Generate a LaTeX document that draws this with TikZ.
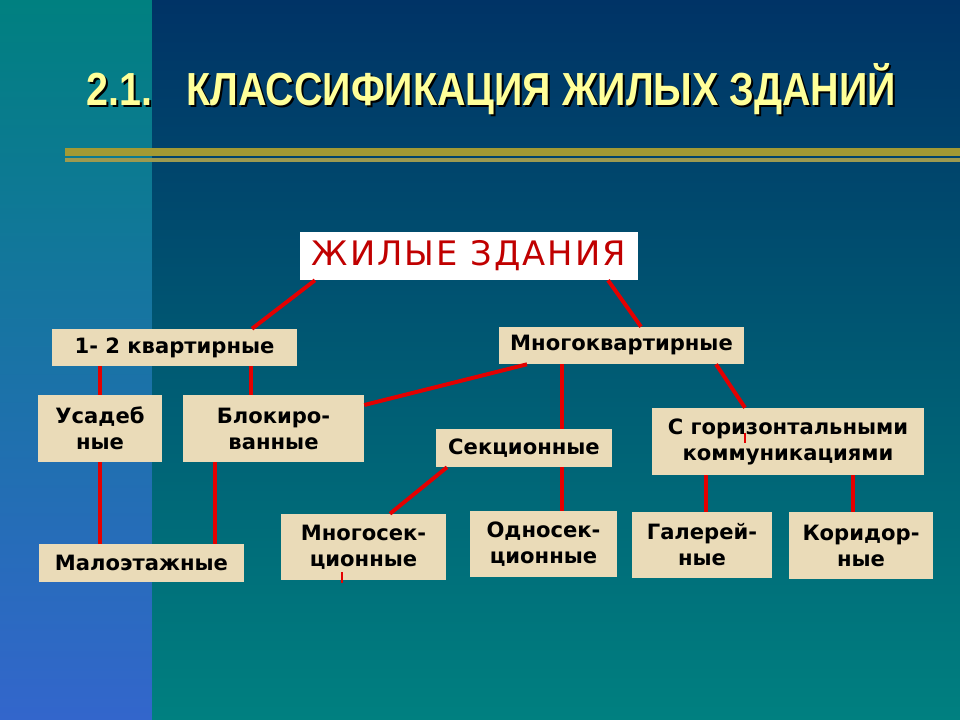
\documentclass[tikz,border=0pt]{standalone}
\usepackage{fontspec}
\setmainfont{DejaVu Sans}
\newfontfamily\titlefont[FakeStretch=0.85]{Liberation Sans}
\newfontfamily\handfont[LetterSpace=6]{DejaVu Sans}

\definecolor{stripTop}{RGB}{0,128,128}
\definecolor{stripBottom}{RGB}{51,102,204}
\definecolor{mainTop}{RGB}{0,51,102}
\definecolor{mainBottom}{RGB}{0,128,128}
\definecolor{ruleThick}{RGB}{162,154,52}
\definecolor{ruleThin}{RGB}{156,154,80}
\definecolor{titleYellow}{RGB}{255,255,153}
\definecolor{boxFill}{RGB}{234,219,184}
\definecolor{linkRed}{RGB}{228,0,0}
\definecolor{headRed}{RGB}{192,0,0}

\begin{document}
\begin{tikzpicture}[x=0.025cm, y=-0.025cm,
    box/.style={fill=boxFill, inner sep=0pt, align=center,
      font=\bfseries\fontsize{15}{18.5}\selectfont},
    link/.style={linkRed, line width=2.8pt},
    tick/.style={linkRed, line width=1.2pt}]

    % background
    \shade[top color=stripTop, bottom color=stripBottom] (0,0) rectangle (152,720);
    \shade[top color=mainTop, bottom color=mainBottom] (152,0) rectangle (960,720);
    \fill[ruleThick] (65,148) rectangle (960,156);
    \fill[ruleThin] (65,158) rectangle (960,162);

    % title
    \node[anchor=west, text=black, font=\titlefont\bfseries\fontsize{33}{36}\selectfont]
      at (84,91) (title_shadow) {2.1.\hspace{24pt}КЛАССИФИКАЦИЯ ЖИЛЫХ ЗДАНИЙ};
    \node[anchor=west, text=titleYellow, font=\titlefont\bfseries\fontsize{33}{36}\selectfont]
      at (82,89) (title) {2.1.\hspace{24pt}КЛАССИФИКАЦИЯ ЖИЛЫХ ЗДАНИЙ};

    % boxes
    \node[fill=white, minimum width=8.45cm, minimum height=1.2cm, text=headRed,
      font=\handfont\fontsize{24}{28}\selectfont] at (469,256) (dwellings) {ЖИЛЫЕ ЗДАНИЯ};

    \node[box, minimum width=6.125cm, minimum height=0.925cm] at (174.5,347.5) (one_two_flat) {1- 2 квартирные};
    \node[box, minimum width=6.125cm, minimum height=0.925cm] at (621.5,345.5) (multi_flat) {Многоквартирные};

    \node[box, minimum width=3.1cm, minimum height=1.675cm] at (100,428.5) (manor) {Усадеб\\ные};
    \node[box, minimum width=4.525cm, minimum height=1.675cm] at (273.5,428.5) (blocked) {Блокиро-\\ванные};
    \node[box, minimum width=5.125cm, minimum height=0.95cm] at (141.5,563) (low_rise) {Малоэтажные};

    \node[box, minimum width=4.4cm, minimum height=0.95cm] at (524,448) (sectional) {Секционные};
    \node[box, minimum width=4.125cm, minimum height=1.65cm] at (363.5,547) (multi_sect) {Многосек-\\ционные};
    \node[box, minimum width=3.675cm, minimum height=1.65cm] at (543.5,544) (single_sect) {Односек-\\ционные};

    \node[box, minimum width=6.8cm, minimum height=1.675cm] at (788,441.5) (horizontal) {С горизонтальными\\коммуникациями};
    \node[box, minimum width=3.5cm, minimum height=1.65cm] at (702,545) (gallery) {Галерей-\\ные};
    \node[box, minimum width=3.6cm, minimum height=1.675cm] at (861,545.5) (corridor) {Коридор-\\ные};

    % connectors
    \draw[link] ([xshift=-3.85cm]dwellings.south) -- ([xshift=1.9375cm]one_two_flat.north);
    \draw[link] ([xshift=3.475cm]dwellings.south) -- ([xshift=0.4875cm]multi_flat.north);

    \draw[link] (manor.north |- one_two_flat.south) -- (manor.north);
    \draw[link] ([xshift=-0.5625cm]blocked.north |- one_two_flat.south) -- ([xshift=-0.5625cm]blocked.north);
    \draw[link] (manor.south) -- (manor.south |- low_rise.north);
    \draw[link] ([xshift=-1.4625cm]blocked.south) -- ([xshift=-1.4625cm]blocked.south |- low_rise.north);

    \draw[link] ([xshift=-2.3625cm]multi_flat.south) -- ([yshift=0.5875cm]blocked.east);
    \draw[link] ([xshift=-1.4875cm]multi_flat.south) -- ([xshift=-1.4875cm]multi_flat.south |- sectional.north);
    \draw[link] ([xshift=2.3625cm]multi_flat.south) -- ([xshift=-1.075cm]horizontal.north);

    \draw[link] ([xshift=-1.925cm]sectional.south) -- ([xshift=0.6625cm]multi_sect.north);
    \draw[link] ([xshift=0.95cm]sectional.south) -- ([xshift=0.95cm]sectional.south |- single_sect.north);

    \draw[link] ([xshift=0.1cm]gallery.north |- horizontal.south) -- ([xshift=0.1cm]gallery.north);
    \draw[link] ([xshift=-0.2cm]corridor.north |- horizontal.south) -- ([xshift=-0.2cm]corridor.north);

    \draw[tick] ([xshift=-0.5375cm, yshift=0.2cm]multi_sect.south) -- ([xshift=-0.5375cm, yshift=-0.075cm]multi_sect.south);
    \draw[tick] ([xshift=-1.075cm, yshift=-0.625cm]horizontal.north) -- ([xshift=-1.075cm, yshift=-0.875cm]horizontal.north);

\end{tikzpicture}
\end{document}
